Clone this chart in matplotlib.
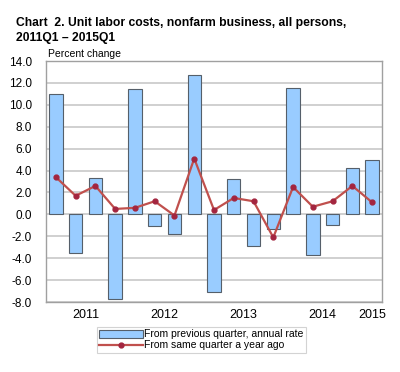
import numpy as np
import matplotlib
matplotlib.use('Agg')
import matplotlib.pyplot as plt

plt.rcParams['font.family'] = ['Liberation Sans', 'DejaVu Sans']

# Datos: 2011Q1 - 2015Q1
quarters = ['2011Q1', '2011Q2', '2011Q3', '2011Q4',
            '2012Q1', '2012Q2', '2012Q3', '2012Q4',
            '2013Q1', '2013Q2', '2013Q3', '2013Q4',
            '2014Q1', '2014Q2', '2014Q3', '2014Q4',
            '2015Q1']
prev_quarter = [11.0, -3.5, 3.3, -7.7,
                11.4, -1.1, -1.8, 12.7,
                -7.1, 3.2, -2.9, -1.3,
                11.5, -3.7, -1.0, 4.2,
                5.0]
year_ago = [3.4, 1.7, 2.6, 0.5,
            0.6, 1.2, -0.1, 5.1,
            0.4, 1.5, 1.2, -2.1,
            2.5, 0.7, 1.2, 2.6,
            1.1]
year_labels = ['2011', '2012', '2013', '2014', '2015']
year_pos = [1.5, 5.5, 9.5, 13.5, 16]

x = np.arange(len(quarters))

fig = plt.figure(figsize=(4.0, 3.72), dpi=100)
ax = fig.add_axes([0.115, 0.188, 0.84, 0.648])

ax.grid(True, axis='y', color='#c8c8c8', linewidth=1.2, zorder=0)
ax.set_axisbelow(True)

bars = ax.bar(x, prev_quarter, width=0.68, color='#99ccff', edgecolor='#555f6a',
              linewidth=0.8, zorder=2)
line, = ax.plot(x, year_ago, color='#c0504d', linewidth=1.6, marker='o',
                markersize=3.5, markerfacecolor='#a3253f', markeredgecolor='#a3253f',
                zorder=3)

ax.set_xlim(-0.5, len(quarters) - 0.5)
ax.set_ylim(-8, 14)
ax.set_yticks(np.arange(-8, 15, 2))
ax.set_yticklabels([f'{v:.1f}' for v in np.arange(-8, 15, 2)], fontsize=8.5)
ax.set_xticks(year_pos)
ax.set_xticklabels(year_labels, fontsize=9)
ax.tick_params(axis='both', length=0, pad=5)
ax.tick_params(axis='y', pad=10)
for s in ax.spines.values():
    s.set_color('#a0a0a0')
    s.set_linewidth(1.0)

fig.text(0.04, 0.955, 'Chart  2. Unit labor costs, nonfarm business, all persons,\n2011Q1 \u2013 2015Q1',
         fontsize=8.7, fontweight='bold', va='top', ha='left', linespacing=1.4)
fig.text(0.12, 0.842, 'Percent change', fontsize=7.5, va='bottom', ha='left')

leg = fig.legend([bars, line],
                 ['From previous quarter, annual rate', 'From same quarter a year ago'],
                 loc='upper left', bbox_to_anchor=(0.243, 0.12), ncol=1,
                 fontsize=7.5, frameon=True, fancybox=False, borderpad=0.2,
                 labelspacing=0.1, handlelength=4.2, handleheight=0.8,
                 handletextpad=0.1, borderaxespad=0)
leg.get_frame().set_edgecolor('#c8c8c8')
leg.get_frame().set_linewidth(0.8)

plt.savefig('out.png', dpi=100)
